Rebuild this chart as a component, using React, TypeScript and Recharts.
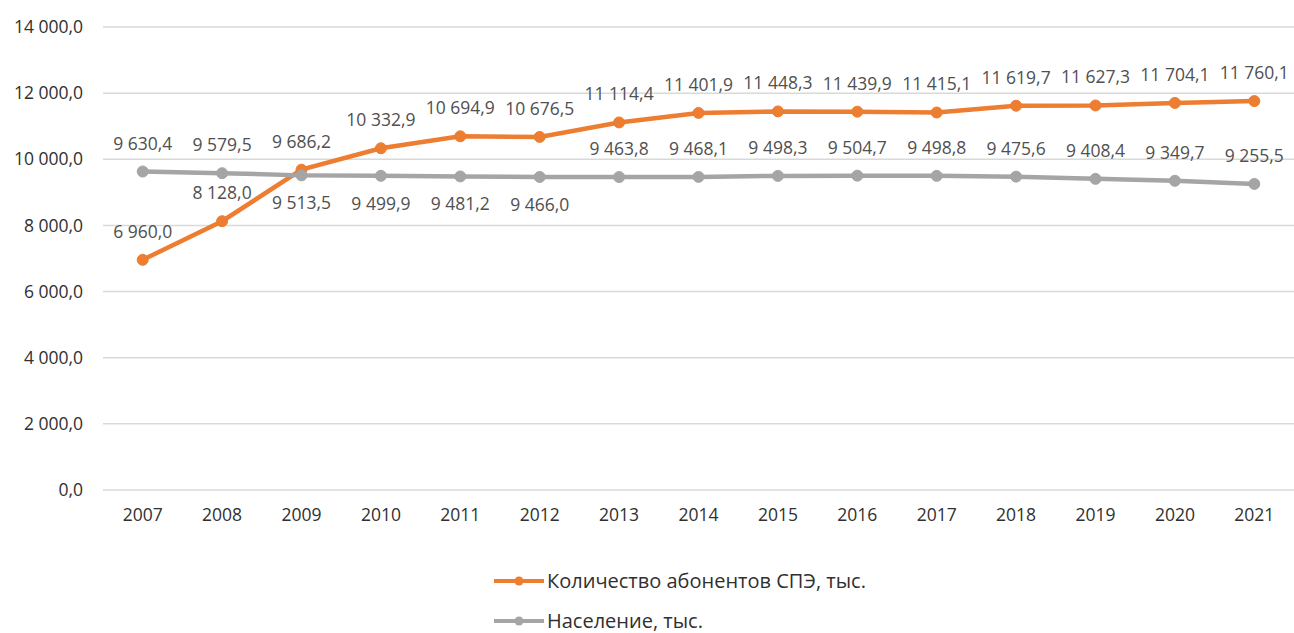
import React from 'react';
import { LineChart, Line, XAxis, YAxis, CartesianGrid, Legend, LabelList } from 'recharts';

const years = ['2007','2008','2009','2010','2011','2012','2013','2014','2015','2016','2017','2018','2019','2020','2021'];
const subscribers = [6960.0, 8128.0, 9686.2, 10332.9, 10694.9, 10676.5, 11114.4, 11401.9, 11448.3, 11439.9, 11415.1, 11619.7, 11627.3, 11704.1, 11760.1];
const population = [9630.4, 9579.5, 9513.5, 9499.9, 9481.2, 9466.0, 9463.8, 9468.1, 9498.3, 9504.7, 9498.8, 9475.6, 9408.4, 9349.7, 9255.5];
const yTicks = [0, 2000, 4000, 6000, 8000, 10000, 12000, 14000];

const SERIES_A = 'Количество абонентов СПЭ, тыс.';
const SERIES_B = 'Население, тыс.';

const data = years.map((y, i) => ({ year: y, a: subscribers[i], b: population[i] }));

const ORANGE = '#ED7D31';
const GRAY = '#A5A5A5';
const FONT = '"Open Sans", sans-serif';

function fmt(v: number): string {
  const s = v.toFixed(1);
  const [intPart, dec] = s.split('.');
  const withSp = intPart.replace(/\B(?=(\d{3})+(?!\d))/g, ' ');
  return withSp + ',' + dec;
}

const makeLabel = (below: (i: number) => boolean) => (props: any) => {
  const { x, y, value, index } = props;
  const dy = below(index) ? 27 : -29;
  return (
    <text x={x} y={y + dy} textAnchor="middle" dominantBaseline="central" fill="#505050" fontSize={17.5} fontFamily={FONT}>
      {fmt(Number(value))}
    </text>
  );
};

const LegendContent = (props: any) => {
  const items = props.payload || [];
  return (
    <div style={{ fontFamily: FONT, fontSize: 20, color: '#303030' }}>
      {items.map((it: any, i: number) => (
        <div
          key={i}
          style={{
            display: 'flex',
            alignItems: 'center',
            height: i === 0 ? 42 : 22,
            lineHeight: '22px',
            marginTop: i === 0 ? 0 : 8,
          }}
        >
          <svg width={52} height={12} style={{ marginRight: 1 }}>
            <line x1={0} y1={6} x2={50} y2={6} stroke={it.color} strokeWidth={4} />
            <circle cx={25} cy={6} r={4.5} fill={it.color} />
          </svg>
          <span>{it.value}</span>
        </div>
      ))}
    </div>
  );
};

export default function App() {
  return (
    <div style={{ position: 'absolute', left: 0, top: 0, width: 1294, height: 633, background: '#fff' }}>
      <LineChart width={1294} height={633} data={data} margin={{ top: 27, right: 0, left: 0, bottom: 113 }}>
        <CartesianGrid vertical={false} stroke="#D9D9D9" strokeWidth={1.5} />
        <XAxis
          dataKey="year"
          axisLine={false}
          tickLine={false}
          tickSize={0}
          tickMargin={19}
          height={30}
          padding={{ left: 39.7, right: 39.7 }}
          tick={{ fill: '#303030', fontSize: 17.5, fontFamily: FONT }}
          interval={0}
        />
        <YAxis
          domain={[0, 14000]}
          ticks={yTicks}
          width={103}
          axisLine={false}
          tickLine={false}
          tickSize={0}
          tickMargin={20}
          tickFormatter={(v: number) => fmt(v)}
          tick={{ fill: '#303030', fontSize: 17.5, fontFamily: FONT }}
        />
        <Legend
          layout="vertical"
          align="center"
          verticalAlign="middle"
          content={<LegendContent />}
          wrapperStyle={{ left: 494, top: 560, width: 460, height: 72 }}
        />
        <Line
          name={SERIES_A}
          dataKey="a"
          stroke={ORANGE}
          strokeWidth={4.5}
          dot={{ r: 5.5, fill: ORANGE, stroke: ORANGE, strokeWidth: 1 }}
          isAnimationActive={false}
        >
          <LabelList dataKey="a" content={makeLabel(() => false)} />
        </Line>
        <Line
          name={SERIES_B}
          dataKey="b"
          stroke={GRAY}
          strokeWidth={4.5}
          dot={{ r: 5.5, fill: GRAY, stroke: GRAY, strokeWidth: 1 }}
          isAnimationActive={false}
        >
          <LabelList dataKey="b" content={makeLabel((i) => i >= 2 && i <= 5)} />
        </Line>
      </LineChart>
    </div>
  );
}
